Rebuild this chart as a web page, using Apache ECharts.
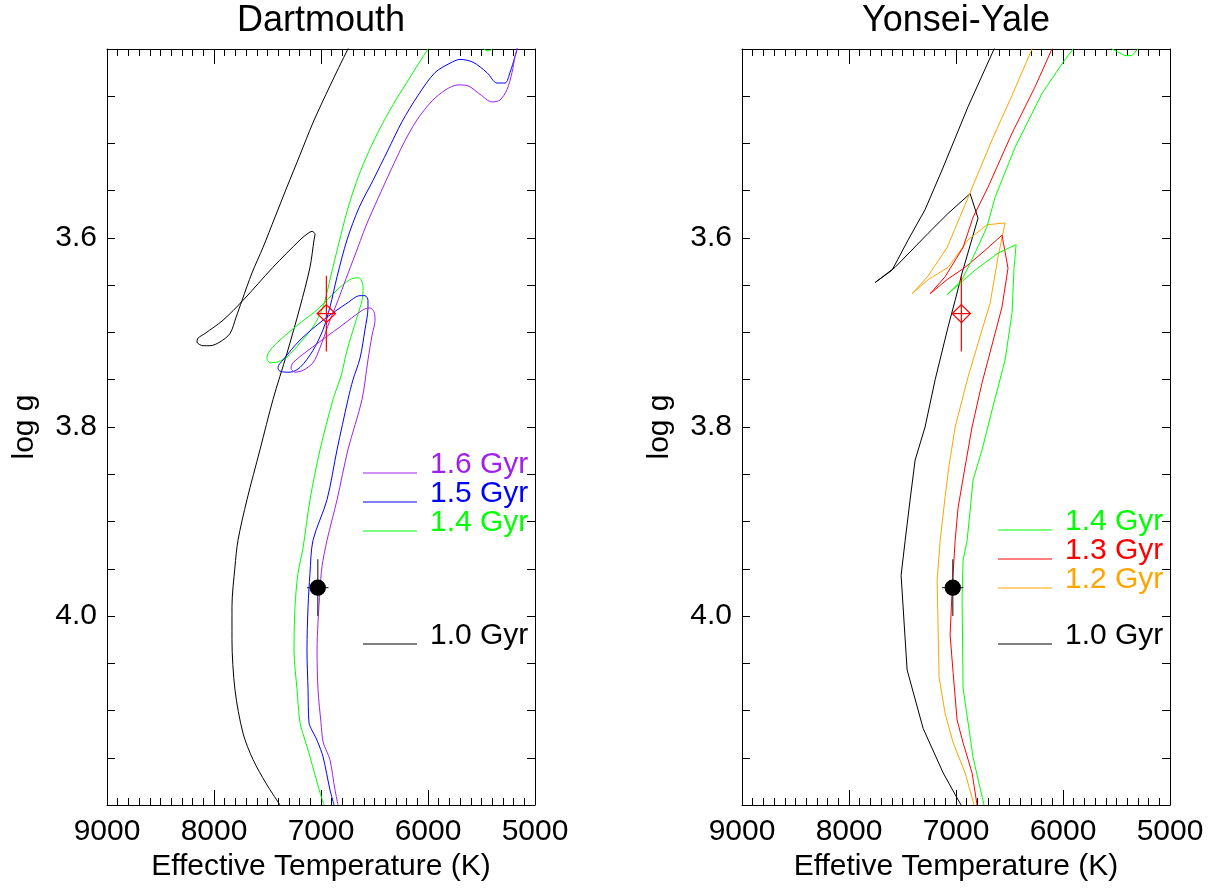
<!DOCTYPE html>
<html><head><meta charset="utf-8">
<script src="https://cdn.jsdelivr.net/npm/echarts@6/dist/echarts.min.js"></script>
<style>html,body{margin:0;padding:0;background:#fff}#c{width:1220px;height:888px}</style>
</head><body><div id="c"></div>
<script>
// ---------- data (Teff [K], log g) ----------
const panelTitles = ['Dartmouth', 'Yonsei-Yale'];
const xAxisNames = ['Effective Temperature (K)', 'Effetive Temperature (K)'];
const yAxisName = 'log g';
const xTickLabels = ['9000', '8000', '7000', '6000', '5000'];
const yTickLabels = ['3.6', '3.8', '4.0'];

// Dartmouth isochrones
const dart10 = [[7383,4.200],[7514,4.177],[7635,4.152],[7729,4.124],[7804,4.078],[7832,4.025],[7832,3.990],[7804,3.948],[7776,3.920],[7692,3.877],[7570,3.824],[7449,3.771],[7318,3.722],[7196,3.673],[7103,3.631],[7065,3.602],[7056,3.596],[7084,3.593],[7121,3.595],[7196,3.602],[7449,3.631],[7729,3.666],[7916,3.687],[8084,3.701],[8150,3.706],[8159,3.710],[8103,3.714],[8037,3.714],[7944,3.710],[7850,3.701],[7794,3.684],[7738,3.666],[7645,3.637],[7542,3.610],[7430,3.578],[7318,3.546],[7196,3.512],[7075,3.478],[6916,3.439],[6748,3.400],[6650,3.380]];
const dart14 = [[6972,4.200],[7009,4.187],[7103,4.149],[7159,4.128],[7196,4.113],[7224,4.078],[7252,4.036],[7243,3.990],[7215,3.955],[7168,3.928],[7103,3.877],[7009,3.824],[6888,3.771],[6810,3.745],[6757,3.719],[6664,3.684],[6617,3.666],[6607,3.652],[6626,3.644],[6654,3.642],[6729,3.644],[6850,3.655],[7037,3.676],[7196,3.690],[7383,3.708],[7477,3.719],[7505,3.727],[7477,3.732],[7402,3.731],[7318,3.726],[7196,3.711],[7075,3.694],[6981,3.673],[6906,3.639],[6832,3.605],[6757,3.572],[6673,3.542],[6579,3.515],[6467,3.488],[6327,3.459],[6168,3.430],[6000,3.400],[5750,3.360],[5477,3.400],[5440,3.402],[5402,3.400],[5350,3.370]];
const dart15 = [[6878,4.200],[6916,4.184],[6981,4.149],[7028,4.134],[7047,4.129],[7084,4.121],[7112,4.113],[7121,4.078],[7131,4.036],[7121,3.990],[7103,3.955],[7075,3.920],[6944,3.877],[6850,3.824],[6748,3.771],[6701,3.750],[6635,3.727],[6589,3.697],[6561,3.674],[6561,3.666],[6589,3.661],[6635,3.661],[6757,3.669],[6981,3.687],[7196,3.708],[7355,3.729],[7402,3.737],[7383,3.741],[7290,3.742],[7196,3.737],[7075,3.719],[6981,3.697],[6916,3.673],[6850,3.641],[6757,3.602],[6645,3.568],[6514,3.539],[6374,3.507],[6243,3.477],[6093,3.449],[5935,3.425],[5794,3.415],[5701,3.411],[5579,3.414],[5449,3.425],[5355,3.436],[5280,3.436],[5234,3.425],[5187,3.408],[5168,3.400],[5140,3.370]];
const dart16 = [[6841,4.200],[6869,4.184],[6916,4.152],[6944,4.144],[6981,4.133],[7000,4.113],[7028,4.078],[7037,4.036],[7028,4.007],[7009,3.972],[6991,3.948],[6944,3.920],[6850,3.877],[6748,3.824],[6617,3.771],[6561,3.729],[6523,3.703],[6495,3.687],[6505,3.678],[6542,3.674],[6607,3.676],[6822,3.694],[7075,3.715],[7262,3.732],[7280,3.738],[7243,3.742],[7168,3.740],[7075,3.732],[7009,3.716],[6916,3.687],[6841,3.666],[6766,3.643],[6682,3.618],[6579,3.587],[6467,3.558],[6346,3.528],[6224,3.499],[6103,3.475],[5963,3.455],[5832,3.443],[5720,3.438],[5626,3.439],[5514,3.448],[5402,3.456],[5327,3.454],[5262,3.443],[5215,3.425],[5187,3.408],[5168,3.400],[5140,3.370]];

// Yonsei-Yale isochrones
const yy10 = [[6952,4.200],[7008,4.189],[7120,4.166],[7307,4.119],[7457,4.057],[7513,3.957],[7475,3.920],[7429,3.877],[7382,3.835],[7289,3.800],[7195,3.750],[7074,3.694],[7008,3.666],[6943,3.637],[6794,3.579],[6868,3.553],[7074,3.574],[7260,3.595],[7569,3.631],[7755,3.647],[7597,3.634],[7447,3.602],[7289,3.570],[7130,3.528],[6887,3.461],[6644,3.400],[6500,3.365]];
const yy12 = [[6831,4.200],[6915,4.166],[7027,4.134],[7102,4.103],[7158,4.065],[7176,3.962],[7148,3.920],[7102,3.874],[7064,3.840],[7008,3.800],[6887,3.747],[6756,3.697],[6681,3.669],[6607,3.620],[6541,3.584],[6710,3.586],[6887,3.602],[7074,3.631],[7260,3.644],[7410,3.659],[7260,3.640],[7083,3.610],[6868,3.552],[6663,3.496],[6476,3.449],[6290,3.400],[6150,3.365]];
const yy13 = [[6803,4.200],[6850,4.166],[6934,4.134],[6990,4.110],[7027,4.060],[7055,4.020],[7036,3.972],[7008,3.920],[6980,3.885],[6915,3.842],[6850,3.800],[6756,3.753],[6635,3.701],[6570,3.673],[6514,3.632],[6570,3.597],[6728,3.613],[6915,3.631],[7083,3.644],[7242,3.659],[7102,3.641],[6934,3.610],[6840,3.578],[6700,3.546],[6476,3.489],[6261,3.440],[6103,3.400],[5980,3.370]];
const yy14 = [[6738,4.200],[6840,4.150],[6934,4.076],[6943,3.980],[6934,3.941],[6896,3.920],[6840,3.856],[6756,3.824],[6663,3.782],[6541,3.729],[6476,3.679],[6457,3.631],[6438,3.607],[6607,3.616],[6822,3.634],[7083,3.660],[6943,3.644],[6822,3.616],[6710,3.588],[6635,3.557],[6448,3.504],[6196,3.447],[5999,3.414],[5906,3.400],[5720,3.370],[5542,3.400],[5421,3.407],[5356,3.407],[5300,3.400],[5250,3.380]];

// observed star: [Teff, logg, dTeff, dlogg]
const starSpec = [[6950, 3.680, 90, 0.040]];
const starPhot = [[7030, 3.970, 100, 0.030]];

const leftLegend = [
  {label: '1.6 Gyr', color: '#a020f0'},
  {label: '1.5 Gyr', color: '#0000ff'},
  {label: '1.4 Gyr', color: '#00ff00'},
  {label: '1.0 Gyr', color: '#000000'}
];
const rightLegend = [
  {label: '1.4 Gyr', color: '#00ff00'},
  {label: '1.3 Gyr', color: '#ff0000'},
  {label: '1.2 Gyr', color: '#ffa500'},
  {label: '1.0 Gyr', color: '#000000'}
];

// ---------- chart ----------
const FONT = '"Liberation Sans", Arial, Helvetica, sans-serif';
const GRID_L = [{left: 107, top: 49, width: 428, height: 756}, {left: 742, top: 49, width: 428, height: 756}];

function xAx(gi, pos, main) {
  return {
    type: 'value', gridIndex: gi, position: pos, min: 5000, max: 9000, interval: 1000, inverse: true,
    name: main ? xAxisNames[gi] : '', nameLocation: 'middle', nameGap: 43,
    nameTextStyle: {fontSize: 30, fontFamily: FONT, color: '#000'},
    axisLine: {show: true, onZero: false, lineStyle: {color: '#000', width: 1}},
    axisTick: {show: true, inside: true, length: 15, lineStyle: {color: '#000', width: 1}},
    minorTick: {show: true, splitNumber: 10, length: 7, lineStyle: {color: '#000', width: 1}},
    splitLine: {show: false}, minorSplitLine: {show: false},
    axisLabel: {show: main, fontSize: 30, fontFamily: FONT, color: '#000', margin: 12,
      showMinLabel: true, showMaxLabel: true,
      formatter: v => xTickLabels.indexOf(String(Math.round(v))) >= 0 ? String(Math.round(v)) : ''}
  };
}
function yAx(gi, pos, main) {
  return {
    type: 'value', gridIndex: gi, position: pos, min: 3.4, max: 4.2, interval: 0.2, inverse: true,
    name: main ? yAxisName : '', nameLocation: 'middle', nameGap: 67, nameRotate: 90,
    nameTextStyle: {fontSize: 30, fontFamily: FONT, color: '#000'},
    axisLine: {show: true, onZero: false, lineStyle: {color: '#000', width: 1}},
    axisTick: {show: true, inside: true, length: 8, lineStyle: {color: '#000', width: 1}},
    minorTick: {show: true, splitNumber: 4, length: 8, lineStyle: {color: '#000', width: 1}},
    splitLine: {show: false}, minorSplitLine: {show: false},
    axisLabel: {show: main, fontSize: 30, fontFamily: FONT, color: '#000', margin: 10,
      showMinLabel: false, showMaxLabel: false,
      formatter: v => yTickLabels.indexOf(v.toFixed(1)) >= 0 ? v.toFixed(1) : ''}
  };
}

function curve(data, color, ax, smooth) {
  return {type: 'line', data: data, xAxisIndex: ax, yAxisIndex: ax, showSymbol: false, symbol: 'none',
    smooth: smooth, clip: true, silent: true, animation: false,
    lineStyle: {color: color, width: 1}, z: 2};
}
function errBars(data, color, ax) {
  return {type: 'custom', data: data, xAxisIndex: ax, yAxisIndex: ax, animation: false, silent: true, z: 4,
    renderItem: function (params, api) {
      const T = api.value(0), g = api.value(1), dT = api.value(2), dg = api.value(3);
      const a = api.coord([T - dT, g]), b = api.coord([T + dT, g]);
      const c = api.coord([T, g - dg]), d = api.coord([T, g + dg]);
      return {type: 'group', children: [
        {type: 'line', shape: {x1: a[0], y1: a[1], x2: b[0], y2: b[1]}, style: {stroke: color, lineWidth: 1.2}},
        {type: 'line', shape: {x1: c[0], y1: c[1], x2: d[0], y2: d[1]}, style: {stroke: color, lineWidth: 1.2}}
      ]};
    }};
}
function marker(data, ax, symbol, size, fill, stroke) {
  return {type: 'scatter', data: data.map(p => [p[0], p[1]]), xAxisIndex: ax, yAxisIndex: ax, symbol: symbol,
    symbolSize: size, animation: false, silent: true, z: 5,
    itemStyle: {color: fill, borderColor: stroke, borderWidth: 1.3, opacity: 1}};
}

const series = [];
// Dartmouth panel (axes 0) - smooth tracks
series.push(curve(dart10, '#000000', 0, 0.3));
series.push(curve(dart14, '#00ff00', 0, 0.3));
series.push(curve(dart15, '#0000ff', 0, 0.3));
series.push(curve(dart16, '#a020f0', 0, 0.3));
// Yonsei-Yale panel (axes 2) - polylines
series.push(curve(yy10, '#000000', 2, false));
series.push(curve(yy12, '#ffa500', 2, false));
series.push(curve(yy13, '#ff0000', 2, false));
series.push(curve(yy14, '#00ff00', 2, false));
[0, 2].forEach(ax => {
  series.push(errBars(starSpec, '#ff0000', ax));
  series.push(marker(starSpec, ax, 'diamond', 18, 'rgba(0,0,0,0)', '#ff0000'));
  series.push(errBars(starPhot, '#333333', ax));
  series.push(marker(starPhot, ax, 'circle', 15, '#000000', '#000000'));
});

const graphic = [];
panelTitles.forEach((t, i) => {
  const g = GRID_L[i];
  graphic.push({type: 'text', x: g.left + g.width / 2, y: 21, z: 10,
    style: {text: t, font: '36px ' + FONT, fill: '#000', align: 'center', verticalAlign: 'middle'}});
});
function legendBlock(items, gi, ys) {
  const g = GRID_L[gi];
  items.forEach((it, k) => {
    const y = ys[k];
    graphic.push({type: 'line', z: 10, shape: {x1: g.left + 256, y1: y, x2: g.left + 310, y2: y},
      style: {stroke: it.color, lineWidth: 1}});
    graphic.push({type: 'text', z: 10, x: g.left + 323, y: y - 8,
      style: {text: it.label, font: '30px ' + FONT, fill: it.color, align: 'left', verticalAlign: 'middle'}});
  });
}
legendBlock(leftLegend, 0, [473, 502, 531, 644]);
legendBlock(rightLegend, 1, [530, 559, 588, 644]);

const chart = echarts.init(document.getElementById('c'), null, {renderer: 'canvas'});
chart.setOption({
  backgroundColor: '#ffffff',
  animation: false,
  grid: GRID_L.map(g => Object.assign({containLabel: false}, g)),
  xAxis: [xAx(0, 'bottom', true), xAx(0, 'top', false), xAx(1, 'bottom', true), xAx(1, 'top', false)],
  yAxis: [yAx(0, 'left', true), yAx(0, 'right', false), yAx(1, 'left', true), yAx(1, 'right', false)],
  series: series,
  graphic: graphic
});
</script></body></html>
